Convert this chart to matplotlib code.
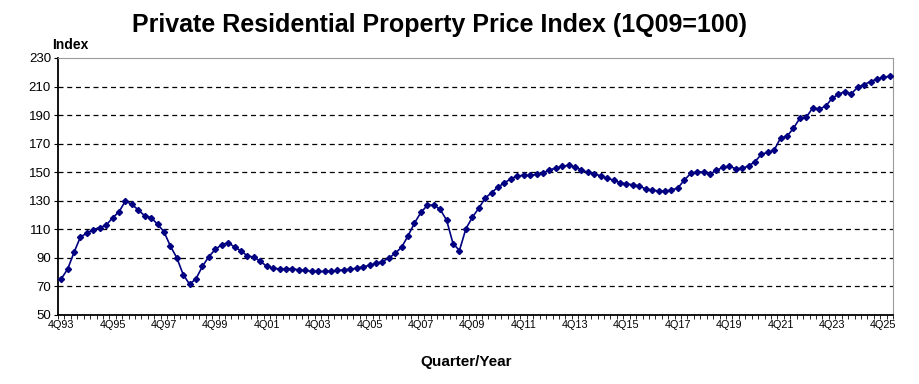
import matplotlib.pyplot as plt
import numpy as np

# Index values per quarter, 4Q93 onwards (1Q09 = 100)
ppi = [
    75.2, 82.0, 93.8, 104.6, 107.2, 109.8, 111.2, 112.8, 118.0, 122.2,
    129.8, 127.4, 123.6, 119.4, 118.2, 113.5, 108.3,
    98.2, 90.0, 78.2, 71.4, 75.4, 84.1, 90.9, 95.9, 99.2, 100.6,
    97.5, 94.9, 91.2, 90.5, 87.6, 84.0, 82.7,
    82.2, 82.4, 82.4, 81.5, 81.1, 80.6, 80.4, 80.4, 80.6, 81.1,
    81.5, 82.0, 82.7, 83.6, 84.8, 86.1,
    87.4, 89.7, 93.2, 97.4, 105.4, 114.3, 121.8, 126.7, 127.0, 123.9,
    116.4, 100.0, 95.1, 110.3, 118.3, 124.7,
    131.7, 135.7, 139.5, 142.5, 145.3, 147.4, 147.7, 147.7, 148.4, 149.3,
    151.6, 152.8, 154.0, 154.9, 153.5, 151.5, 149.9,
    149.0, 147.3, 145.7, 144.4, 142.6, 141.9, 141.1, 140.4, 138.1, 137.3,
    136.9, 136.7, 137.5, 138.9, 144.4, 149.1, 150.1, 150.1, 148.7, 151.2,
    153.4, 154.1, 152.4, 152.7, 154.3, 157.3, 162.5, 163.9, 165.5, 174.0,
    175.2, 180.8, 187.8, 188.6, 195.0, 194.3, 196.1, 201.7, 204.6, 206.4,
    204.9, 209.5, 211.4, 213.5, 215.2, 216.5, 217.2,
]
tick_labels = ['4Q93', '4Q95', '4Q97', '4Q99', '4Q01', '4Q03', '4Q05', '4Q07',
               '4Q09', '4Q11', '4Q13', '4Q15', '4Q17', '4Q19', '4Q21', '4Q23', '4Q25']
y_ticks = [50, 70, 90, 110, 130, 150, 170, 190, 210, 230]

plt.rcParams['font.family'] = ['Liberation Sans', 'DejaVu Sans']

fig = plt.figure(figsize=(9.2, 3.84), dpi=100)
ax = fig.add_axes([0.063, 0.18, 0.9077, 0.669])

x = np.arange(len(ppi))
ax.plot(x, ppi, color='#000080', lw=1.2, marker='D', ms=3.1, zorder=3)

ax.set_xlim(-0.45, len(ppi) - 0.55)
ax.set_ylim(50, 230)
ax.set_yticks(y_ticks)
ax.tick_params(axis='y', labelsize=9.5, length=3, direction='out', pad=2)

ax.set_xticks(x[::8][:len(tick_labels)])
ax.set_xticklabels(tick_labels, fontsize=7.8)
ax.set_xticks(np.arange(-0.5, len(ppi), 1), minor=True)
ax.tick_params(axis='x', which='major', length=0, pad=4)
ax.tick_params(axis='x', which='minor', length=3, direction='out')

ax.yaxis.grid(True, color='black', linestyle=(0, (4, 3)), lw=0.9)
for gl, val in zip(ax.yaxis.get_gridlines(), y_ticks):
    if val in (50, 230):
        gl.set_visible(False)

ax.spines['top'].set_color('#9a9a9a')
ax.spines['right'].set_color('#9a9a9a')
ax.spines['left'].set_linewidth(1.3)
ax.spines['bottom'].set_linewidth(1.3)

fig.text(0.478, 0.935, 'Private Residential Property Price Index (1Q09=100)',
         ha='center', va='center', fontsize=18, fontweight='bold')
fig.text(0.057, 0.883, 'Index', ha='left', va='center', fontsize=10, fontweight='bold')
fig.text(0.507, 0.057, 'Quarter/Year', ha='center', va='center', fontsize=11, fontweight='bold')

fig.savefig('out.png', dpi=100)
